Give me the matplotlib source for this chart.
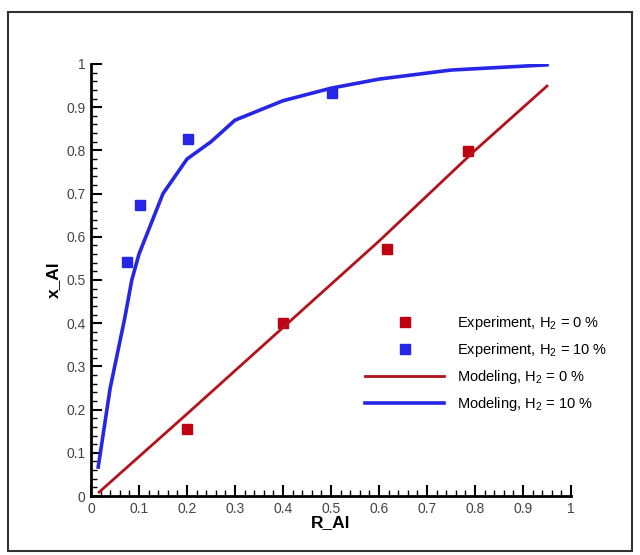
import numpy as np
import matplotlib
matplotlib.use("Agg")
import matplotlib.pyplot as plt
from matplotlib.ticker import MultipleLocator
from matplotlib.patches import Rectangle

plt.rcParams['font.family'] = ['Liberation Sans', 'DejaVu Sans']
plt.rcParams['mathtext.fontset'] = 'custom'
plt.rcParams['mathtext.rm'] = 'Liberation Sans'

# experiment points
exp0_x = [0.20, 0.40, 0.617, 0.785]
exp0_y = [0.155, 0.40, 0.572, 0.799]
exp10_x = [0.075, 0.102, 0.202, 0.502]
exp10_y = [0.542, 0.674, 0.827, 0.933]

# modeling curves
mod0_x = [0.017, 0.2, 0.4, 0.6, 0.8, 0.95]
mod0_y = [0.009, 0.19, 0.39, 0.59, 0.80, 0.949]
mod10_x = [0.015, 0.04, 0.07, 0.085, 0.10, 0.15, 0.20, 0.25, 0.30, 0.40, 0.50, 0.60, 0.75, 0.95]
mod10_y = [0.067, 0.25, 0.41, 0.50, 0.56, 0.70, 0.78, 0.82, 0.87, 0.915, 0.944, 0.965, 0.986, 0.998]

labels = ["Experiment, H$_\\mathrm{2}$ = 0 %", "Experiment, H$_\\mathrm{2}$ = 10 %",
          "Modeling, H$_\\mathrm{2}$ = 0 %", "Modeling, H$_\\mathrm{2}$ = 10 %"]
ticklabels = ["0", "0.1", "0.2", "0.3", "0.4", "0.5", "0.6", "0.7", "0.8", "0.9", "1"]

red = "#c00010"
blue = "#2626e6"

fig = plt.figure(figsize=(6.4, 5.55), dpi=100)
ax = fig.add_axes([91/640, 1-496/555, 480/640, 432/555])

# outer frame
fig.patches.append(Rectangle((8/640, 4/555), 624/640, 539/555, transform=fig.transFigure,
                             fill=False, edgecolor="#333333", lw=1.5))

h1, = ax.plot(exp0_x, exp0_y, 's', color=red, ms=7, ls='none')
h2, = ax.plot(exp10_x, exp10_y, 's', color=blue, ms=7, ls='none')
h3, = ax.plot(mod0_x, mod0_y, '-', color="#b3121c", lw=2)
h4, = ax.plot(mod10_x, mod10_y, '-', color=blue, lw=2.6)

ax.set_xlim(0, 1)
ax.set_ylim(0, 1)
ax.spines['top'].set_visible(False)
ax.spines['right'].set_visible(False)
for s in ['left', 'bottom']:
    ax.spines[s].set_linewidth(2)
ax.xaxis.set_minor_locator(MultipleLocator(0.02))
ax.yaxis.set_minor_locator(MultipleLocator(0.02))
ax.tick_params(which='major', direction='in', length=8, width=1.5, labelsize=10,
               labelcolor="#444444", pad=4)
ax.tick_params(which='minor', direction='in', length=4, width=1)
ax.set_xticks(np.arange(0, 1.01, 0.1))
ax.set_xticklabels(ticklabels)
ax.set_yticks(np.arange(0, 1.01, 0.1))
ax.set_yticklabels(ticklabels)

ax.set_xlabel("R_Al", fontsize=12.5, fontweight='bold', labelpad=0)
ax.set_ylabel("x_Al", fontsize=12.5, fontweight='bold', labelpad=4)

fig.legend([h1, h2, h3, h4], labels, loc='upper left',
           bbox_to_anchor=(352/640, 1-301/555), frameon=False, fontsize=10.5,
           handlelength=5.4, handletextpad=0.9, labelspacing=0.62)

fig.savefig("out.png", dpi=100)
